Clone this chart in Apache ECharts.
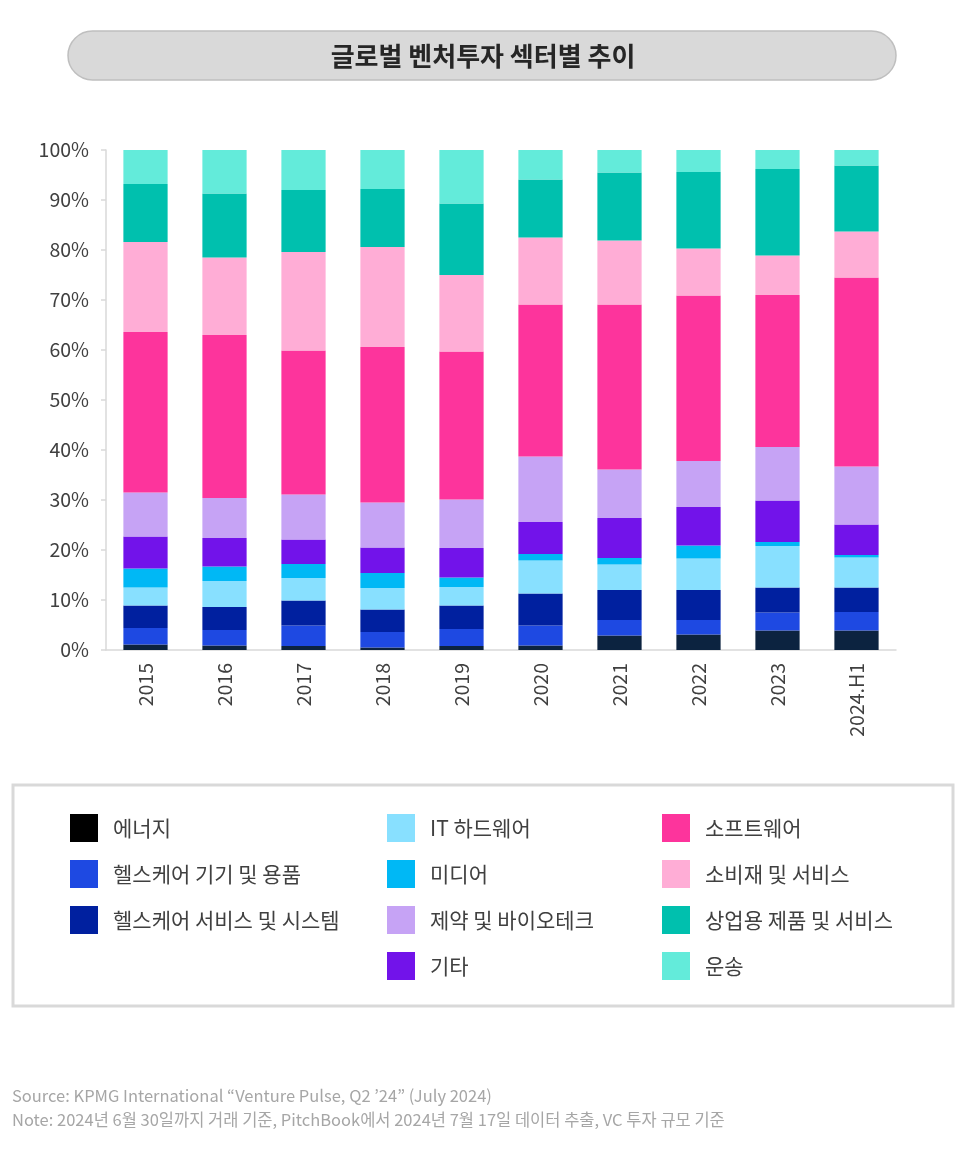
<!DOCTYPE html>
<html>
<head>
<meta charset="utf-8">
<script src="https://cdn.jsdelivr.net/npm/echarts@6/dist/echarts.min.js"></script>
<style>
    html, body { margin: 0; padding: 0; background: #fff; }
    #chart { width: 973px; height: 1155px; }
</style>
</head>
<body>
<div id="chart"></div>
<script>
    // 연도
    const years = ['2015', '2016', '2017', '2018', '2019', '2020', '2021', '2022', '2023', '2024.H1'];

    // 섹터별 비중 (%), 아래에서 위 순서
    const energy        = [1.1, 0.9, 0.8, 0.5, 0.8, 0.9, 2.9, 3.1, 3.9, 3.9];
    const hcDevices     = [3.3, 3.1, 4.1, 3.1, 3.4, 4.0, 3.1, 2.9, 3.6, 3.7];
    const hcServices    = [4.5, 4.6, 5.0, 4.5, 4.7, 6.4, 6.0, 6.0, 5.0, 4.9];
    const itHardware    = [3.6, 5.2, 4.5, 4.3, 3.7, 6.6, 5.1, 6.3, 8.3, 6.0];
    const media         = [3.8, 2.9, 2.8, 3.0, 1.9, 1.3, 1.3, 2.6, 0.8, 0.5];
    const other         = [6.4, 5.7, 4.9, 5.1, 5.9, 6.4, 8.0, 7.7, 8.3, 6.1];
    const pharma        = [8.8, 8.0, 9.0, 9.0, 9.7, 13.1, 9.7, 9.2, 10.7, 11.6];
    const software      = [32.1, 32.6, 28.8, 31.1, 29.6, 30.4, 33.0, 33.1, 30.4, 37.8];
    const consumer      = [18.0, 15.5, 19.7, 20.0, 15.3, 13.4, 12.8, 9.4, 7.9, 9.2];
    const commercial    = [11.6, 12.8, 12.4, 11.6, 14.3, 11.6, 13.6, 15.3, 17.3, 13.2];
    const transport     = [6.8, 8.7, 8.0, 7.8, 10.7, 5.9, 4.5, 4.4, 3.8, 3.1];

    const yTicks = [0, 10, 20, 30, 40, 50, 60, 70, 80, 90, 100];

    const sectors = [
        { name: '에너지', data: energy, color: '#0c2340' },
        { name: '헬스케어 기기 및 용품', data: hcDevices, color: '#1e49e2' },
        { name: '헬스케어 서비스 및 시스템', data: hcServices, color: '#00209f' },
        { name: 'IT 하드웨어', data: itHardware, color: '#88e0ff' },
        { name: '미디어', data: media, color: '#00b8f5' },
        { name: '기타', data: other, color: '#7213ea' },
        { name: '제약 및 바이오테크', data: pharma, color: '#c6a3f5' },
        { name: '소프트웨어', data: software, color: '#fd349c' },
        { name: '소비재 및 서비스', data: consumer, color: '#ffadd6' },
        { name: '상업용 제품 및 서비스', data: commercial, color: '#00c0ae' },
        { name: '운송', data: transport, color: '#63ebda' }
    ];

    const font = '"Noto Sans CJK KR", "Noto Sans", sans-serif';

    const legendCols = [
        { left: 70, names: ['에너지', '헬스케어 기기 및 용품', '헬스케어 서비스 및 시스템'] },
        { left: 387, names: ['IT 하드웨어', '미디어', '제약 및 바이오테크', '기타'] },
        { left: 662, names: ['소프트웨어', '소비재 및 서비스', '상업용 제품 및 서비스', '운송'] }
    ];

    let myChart = echarts.init(document.getElementById('chart'));

    let option = {
        animation: false,
        textStyle: { fontFamily: font },
        graphic: [
            {
                type: 'rect',
                shape: { x: 68, y: 31, width: 828, height: 49, r: 25 },
                style: { fill: '#d9d9d9', stroke: '#bfbfbf', lineWidth: 1.5 }
            },
            {
                type: 'text',
                x: 483, y: 56,
                style: {
                    text: '글로벌 벤처투자 섹터별 추이',
                    font: 'bold 26px ' + font,
                    fill: '#262626',
                    align: 'center',
                    verticalAlign: 'middle'
                }
            },
            {
                type: 'rect',
                shape: { x: 13, y: 785, width: 940, height: 221 },
                style: { fill: 'none', stroke: '#d9d9d9', lineWidth: 3 }
            },
            {
                type: 'text',
                x: 12, y: 1087,
                style: {
                    text: 'Source: KPMG International “Venture Pulse, Q2 ’24” (July 2024)',
                    font: '16.5px ' + font,
                    fill: '#a6a6a6'
                }
            },
            {
                type: 'text',
                x: 12, y: 1111,
                style: {
                    text: 'Note: 2024년 6월 30일까지 거래 기준, PitchBook에서 2024년 7월 17일 데이터 추출, VC 투자 규모 기준',
                    font: '16.5px ' + font,
                    fill: '#a6a6a6'
                }
            }
        ],
        legend: legendCols.map(function (col) {
            return {
                orient: 'vertical',
                left: col.left,
                top: 814,
                padding: 0,
                itemWidth: 28,
                itemHeight: 28,
                itemGap: 18,
                icon: 'rect',
                textStyle: { fontSize: 21, color: '#404040', fontFamily: font, padding: [0, 0, 0, 10] },
                data: col.names.map(function (n) {
                    return n === '에너지' ? { name: n, itemStyle: { color: '#000000' } } : { name: n };
                })
            };
        }),
        grid: { left: 106, right: 77, top: 150, bottom: 505, containLabel: false },
        xAxis: {
            type: 'category',
            data: years,
            axisLine: { lineStyle: { color: '#d9d9d9', width: 1.5 } },
            axisTick: { show: false },
            axisLabel: { rotate: 90, fontSize: 19.5, color: '#404040', margin: 13, fontFamily: font }
        },
        yAxis: {
            type: 'value',
            min: 0,
            max: 100,
            interval: 10,
            axisLine: { show: true, lineStyle: { color: '#d9d9d9', width: 1.5 } },
            axisTick: { show: true, length: 5, lineStyle: { color: '#d9d9d9', width: 1.5 } },
            splitLine: { show: false },
            axisLabel: {
                fontSize: 19.5,
                color: '#404040',
                margin: 17,
                fontFamily: font,
                formatter: function (v) { return yTicks.indexOf(v) >= 0 ? v + '%' : ''; }
            }
        },
        series: sectors.map(function (s) {
            return {
                name: s.name,
                type: 'bar',
                stack: 'total',
                barWidth: '56%',
                data: s.data,
                itemStyle: { color: s.color }
            };
        })
    };
    myChart.setOption(option);
</script>
</body>
</html>
